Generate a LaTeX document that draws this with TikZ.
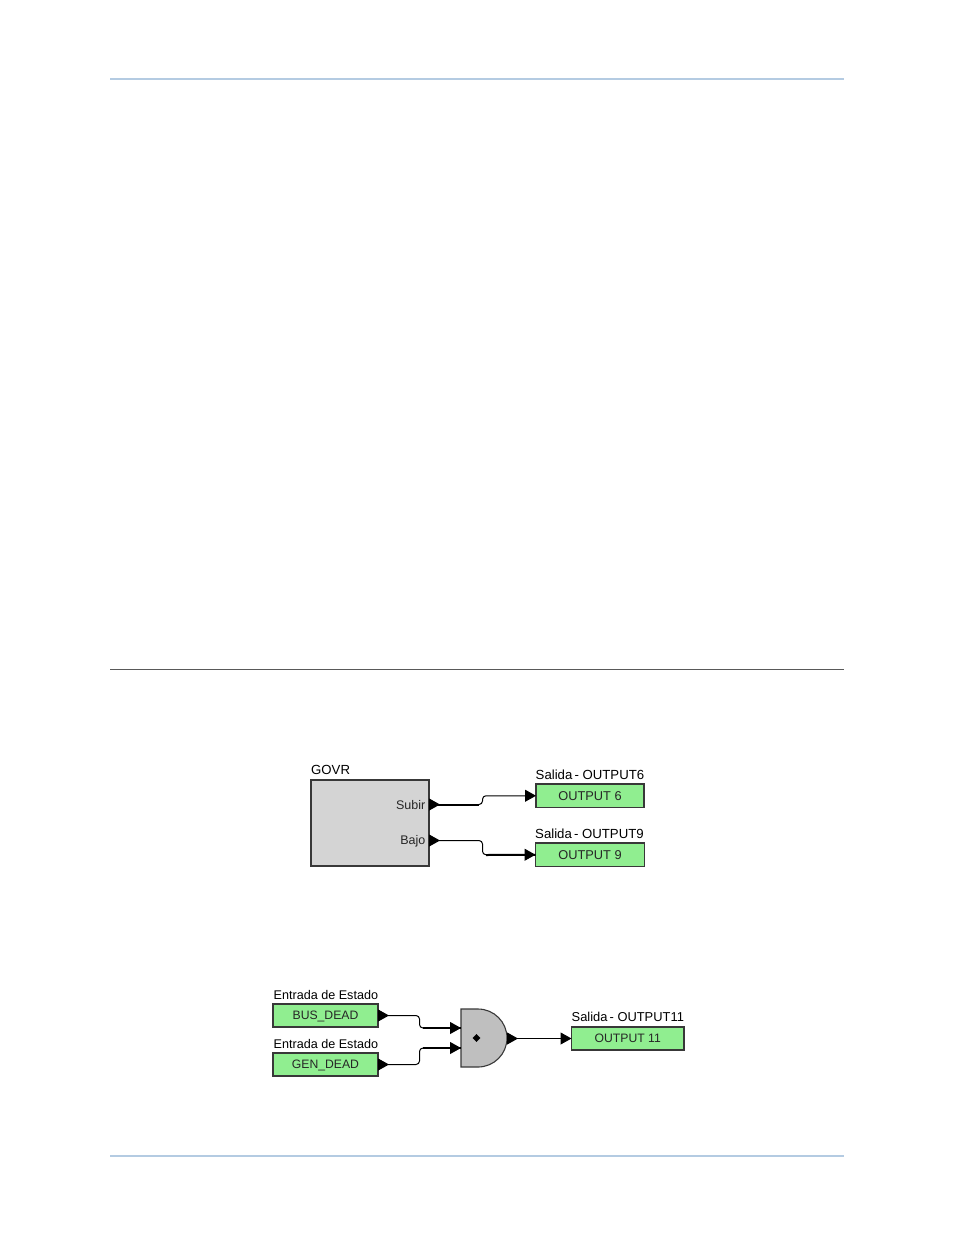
\documentclass[tikz,border=0pt]{standalone}
\usepackage{fontspec}
\setmainfont{Liberation Sans}
\usepackage{tikz}
\usetikzlibrary{shapes, arrows.meta, positioning}
\definecolor{rulecol}{HTML}{B4CBE2}
\definecolor{boxgreen}{HTML}{90EE90}
\definecolor{edgecol}{HTML}{383838}
\tikzset{
	iobox/.style={draw=edgecol, line width=1.1pt, fill=boxgreen, anchor=north west, inner sep=0pt, outer sep=0pt, align=center, text=black!85, text height=9.3pt, text depth=0pt, font=\fontsize{12.8}{15}\selectfont},
	lowbox/.style={iobox, minimum height=23pt, text height=8pt, font=\fontsize{12.2}{15}\selectfont},
	caption/.style={anchor=base west, inner sep=0pt, font=\fontsize{13.2}{15}\selectfont},
	statecap/.style={anchor=base west, inner sep=0pt, font=\fontsize{12.6}{15}\selectfont},
	portlabel/.style={anchor=east, inner sep=0pt, text=black!85, font=\fontsize{12.5}{14}\selectfont},
	wire/.style={line width=1pt, rounded corners=3.5pt, {Triangle[reversed, length=11pt, width=12pt]}-{Triangle[length=11pt, width=12pt]}},
	heavy/.style={line width=2pt},
}
\begin{document}
\begin{tikzpicture}[x=1pt, y=-1pt]
		\useasboundingbox (0,0) rectangle (954,1235);
		
		% Page rules
		\draw[rulecol, line width=1.3pt] (110,79) -- (844,79);
		\draw[black!65, line width=0.9pt] (110,669.5) -- (844,669.5);
		\draw[rulecol, line width=1.3pt] (110,1156) -- (844,1156);
		
		% Upper diagram
		\node[draw=edgecol, line width=1.1pt, fill=black!17, anchor=north west, inner sep=0pt, outer sep=0pt, minimum width=118pt, minimum height=86pt] (govr) at (311,780) {};
		\node[caption] (govrcap) at (311,774.5) {GOVR};
		\node[portlabel] (subir) at (425.5,805) {Subir};
		\node[portlabel] (bajo) at (425.5,841) {Bajo};
		\coordinate (subirport) at (429,804.5);
		\coordinate (bajoport) at (429,840.5);
		\node[iobox, minimum width=108pt, minimum height=23.5pt] (output6) at (536,784) {OUTPUT 6};
		\node[iobox, minimum width=109pt, minimum height=23.5pt] (output9) at (535.5,843) {OUTPUT 9};
		\node[caption] (output6cap) at (535.5,779) {Salida\hspace{-1.5pt} - OUTPUT6};
		\node[caption] (output9cap) at (535,838) {Salida\hspace{-1.5pt} - OUTPUT9};
		\draw[wire] (subirport) -- (482.5,804.5) |- (output6.west);
		\draw[wire] (bajoport) -- (482.5,840.5) |- (output9.west);
		\draw[heavy] (subirport) -- (479,804.5);
		\draw[heavy] (486,855) -- (output9.west);
		
		% Lower diagram
		\node[lowbox, minimum width=105pt] (busdead) at (273,1004) {BUS\_DEAD};
		\node[lowbox, minimum width=105pt] (gendead) at (273,1053) {GEN\_DEAD};
		\node[statecap] (buscap) at (273.5,999.5) {Entrada de Estado};
		\node[statecap] (gencap) at (273.5,1048) {Entrada de Estado};
		\draw[line width=1.1pt, draw=edgecol, fill=black!25] (461,1009) -- (478,1009) arc[start angle=90, end angle=-90, radius=29pt] -- (461,1067) -- cycle;
		\node[draw, fill=black, diamond, inner sep=0pt, minimum size=7.5pt] (andmark) at (476.5,1038) {};
		\coordinate (andin1) at (461,1028);
		\coordinate (andin2) at (461,1048);
		\coordinate (andout) at (507,1038.5);
		\node[lowbox, minimum width=112.5pt] (output11) at (571.5,1027) {OUTPUT 11};
		\node[caption, font=\fontsize{12.9}{15}\selectfont] (output11cap) at (571.5,1021.5) {Salida\hspace{-1.5pt} - OUTPUT11};
		\draw[wire] (busdead.east) -- (419.5,1015.5) |- (andin1);
		\draw[wire] (gendead.east) -- (419.5,1064.5) |- (andin2);
		\draw[heavy] (423,1028) -- (andin1);
		\draw[heavy] (423,1048) -- (andin2);
		\draw[wire] (andout) -- (output11.west);
	\end{tikzpicture}
\end{document}
